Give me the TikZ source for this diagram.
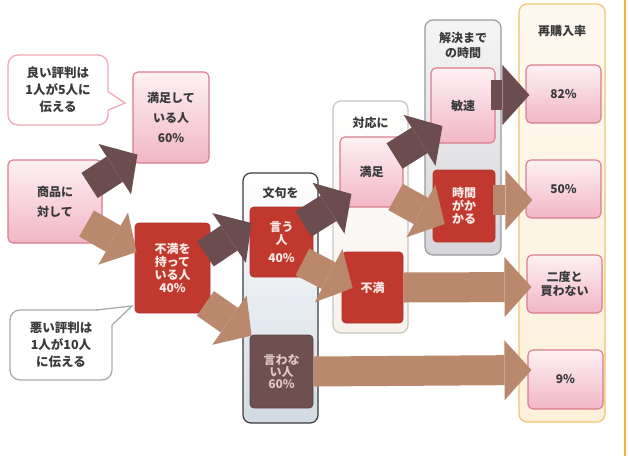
\documentclass[tikz,border=0pt]{standalone}
\usepackage{fontspec}
\setmainfont{Noto Sans CJK JP}
\usetikzlibrary{arrows.meta,calc}
\definecolor{pinkline}{HTML}{D97C8C}
\definecolor{pinktop}{HTML}{FDF1F4}
\definecolor{pinkbot}{HTML}{F2B6C6}
\definecolor{redfill}{HTML}{C1392E}
\definecolor{redline}{HTML}{B0332A}
\definecolor{brownfill}{HTML}{6E5051}
\definecolor{brownline}{HTML}{5E4243}
\definecolor{browntxt}{HTML}{DCC6C6}
\definecolor{darkarr}{HTML}{6B4C4F}
\definecolor{tanarr}{HTML}{BA886C}
\definecolor{txt}{HTML}{3A3A3A}
\definecolor{lighttxt}{HTML}{FBECE8}
\definecolor{monkuline}{HTML}{3C3C3C}
\definecolor{monkubot}{HTML}{D2DBE3}
\definecolor{taioline}{HTML}{C9C5BF}
\definecolor{taiofill}{HTML}{F7F2EC}
\definecolor{kailine}{HTML}{9B99A1}
\definecolor{kaibot}{HTML}{D6D5DA}
\definecolor{sailine}{HTML}{F2C56C}
\definecolor{saifill}{HTML}{FCF0DA}
\definecolor{goodline}{HTML}{F2A8B6}
\definecolor{badline}{HTML}{ABABAB}
\definecolor{edgeorange}{HTML}{F4B23A}
\tikzset{
  lbl/.style={text=txt, align=center, font=\fontsize{12}{20}\selectfont\bfseries, inner sep=0pt},
  pinkbox/.style={rounded corners=5pt, draw=pinkline, line width=1.1pt, top color=pinktop, bottom color=pinkbot, lbl},
  redbox/.style={rounded corners=4pt, draw=redline, line width=0.8pt, fill=redfill, align=center, text=lighttxt, font=\fontsize{12}{13}\selectfont\bfseries, inner sep=0pt},
  brownbox/.style={rounded corners=4pt, draw=brownline, line width=0.8pt, fill=brownfill, align=center, text=browntxt, font=\fontsize{12}{12}\selectfont\bfseries, inner sep=0pt},
  panel/.style={rounded corners=8pt, line width=1.2pt, inner sep=0pt},
  bubble/.style={rounded corners=10pt, fill=white, line width=1.3pt, text=txt, align=center, inner sep=0pt, font=\fontsize{12.5}{17}\selectfont\bfseries},
  blk/.style={line width=30pt, -{Triangle[width=60pt,length=27pt,line width=0pt]}},
  darkarrow/.style={blk, draw=darkarr},
  tanarrow/.style={blk, draw=tanarr},
}
\begin{document}
\begin{tikzpicture}[x=1pt,y=-1pt]
\useasboundingbox (0,0) rectangle (629,456);
\fill[white] (0,0) rectangle (629,456);
\draw[edgeorange, line width=2pt] (625,0) -- (625,456);

% panels
\node[panel, draw=monkuline, top color=white, bottom color=monkubot, minimum width=75pt, minimum height=250pt] (pMonku) at (280.5,298) {};
\node[panel, draw=taioline, top color=white, bottom color=taiofill, minimum width=75pt, minimum height=232pt] (pTaio) at (370.5,217) {};
\node[panel, draw=kailine, top color=white!96!black, bottom color=kaibot, minimum width=76pt, minimum height=235pt] (pKai) at (463,137.5) {};
\node[panel, draw=sailine, top color=saifill!40, bottom color=saifill, minimum width=86pt, minimum height=418pt] (pSai) at (562,213) {};

% panel titles
\node[lbl] (tMonku) at (280.5,193) {文句を};
\node[lbl] (tTaio) at (370.5,123) {対応に};
\node[lbl, font=\fontsize{12}{15}\selectfont\bfseries] (tKai) at (463,45) {解決まで\\の時間};
\node[lbl] (tSai) at (562,31) {再購入率};

% boxes
\node[pinkbox, minimum width=76pt, minimum height=91pt] (sat60) at (171,117.5) {満足して\\いる人\\60\%};
\node[pinkbox, minimum width=94pt, minimum height=83pt] (shohin) at (55,201.5) {商品に\\対して};
\node[redbox, minimum width=75pt, minimum height=90pt] (fuman40) at (172.5,268) {不満を\\持って\\いる人\\40\%};
\node[redbox, minimum width=63pt, minimum height=70pt] (iu) at (281.5,242) {言う\\人\\[5pt]40\%};
\node[brownbox, minimum width=63pt, minimum height=73pt] (iwanai) at (281.5,371.5) {言わな\\い人\\60\%};
\node[pinkbox, minimum width=63pt, minimum height=70pt] (manzoku) at (371.5,172) {満足};
\node[redbox, minimum width=61pt, minimum height=71pt] (fuman) at (372.5,287.5) {不満};
\node[pinkbox, minimum width=64pt, minimum height=75pt] (binsoku) at (463,105.5) {敏速};
\node[redbox, minimum width=62pt, minimum height=72pt] (jikan) at (464,206) {時間\\がか\\かる};
\node[pinkbox, minimum width=75pt, minimum height=58pt] (r82) at (563.5,94) {82\%};
\node[pinkbox, minimum width=75pt, minimum height=58pt] (r50) at (563.5,189) {50\%};
\node[pinkbox, minimum width=75pt, minimum height=58pt, font=\fontsize{12}{14}\selectfont\bfseries] (rNever) at (564.5,284) {二度と\\買わない};
\node[pinkbox, minimum width=75pt, minimum height=59pt] (r9) at (565.5,379.5) {9\%};

% arrows
\draw[darkarrow] ($(shohin.north east)+(-13,26)$) -- ($(sat60.south west)+(5,-9)$);
\draw[tanarrow] ($(shohin.east)+(-16,22)$) -- ($(fuman40.west)+(2,-16)$);
\draw[darkarrow] ($(fuman40.east)+(-5,-14)$) -- ($(iu.west)+(2,-19)$);
\draw[tanarrow] ($(fuman40.south east)+(-5,-10)$) -- ($(iwanai.north west)+(2,1)$);
\draw[darkarrow] ($(iu.east)+(-10,-18)$) -- ($(manzoku.west)+(12,22)$);
\draw[tanarrow] ($(iu.east)+(-11,20)$) -- ($(fuman.west)+(11,0.5)$);
\draw[darkarrow] ($(manzoku.east)+(-9,-16)$) -- ($(binsoku.west)+(12,20.5)$);
\draw[tanarrow] ($(manzoku.east)+(-8,25)$) -- ($(jikan.west)+(12,18)$);
\draw[darkarrow] ($(binsoku.east)+(-5,-10.5)$) -- ($(r82.west)+(4,1)$);
\draw[tanarrow] ($(jikan.east)+(-2,-6)$) -- ($(r50.west)+(7,11)$);
\draw[tanarrow] (fuman.east) -- ($(rNever.west)+(5,3)$);
\draw[tanarrow] (iwanai.east) -- ($(r9.west)+(4,-9.5)$);

% speech bubbles
\node[bubble, draw=goodline, minimum width=100pt, minimum height=70pt] (bubGood) at (58,90) {良い評判は\\1人が5人に\\伝える};
\coordinate (gtip) at (125,103);
\fill[white] ($(bubGood.east)+(-2,2)$) -- (gtip) -- ($(bubGood.east)+(-2,20)$) -- cycle;
\draw[goodline, line width=1.3pt, line join=miter] ($(bubGood.east)+(0,2)$) -- (gtip) -- ($(bubGood.east)+(0,20)$);

\node[bubble, draw=badline, minimum width=102pt, minimum height=70pt] (bubBad) at (61,345) {悪い評判は\\1人が10人\\に伝える};
\coordinate (btip) at (132,306);
\fill[white] (96,310.8) -- (btip) -- (111.3,325) -- (96,325) -- cycle;
\draw[badline, line width=1.3pt, line join=miter] (96,310) -- (btip) -- (112,325);
\end{tikzpicture}
\end{document}
